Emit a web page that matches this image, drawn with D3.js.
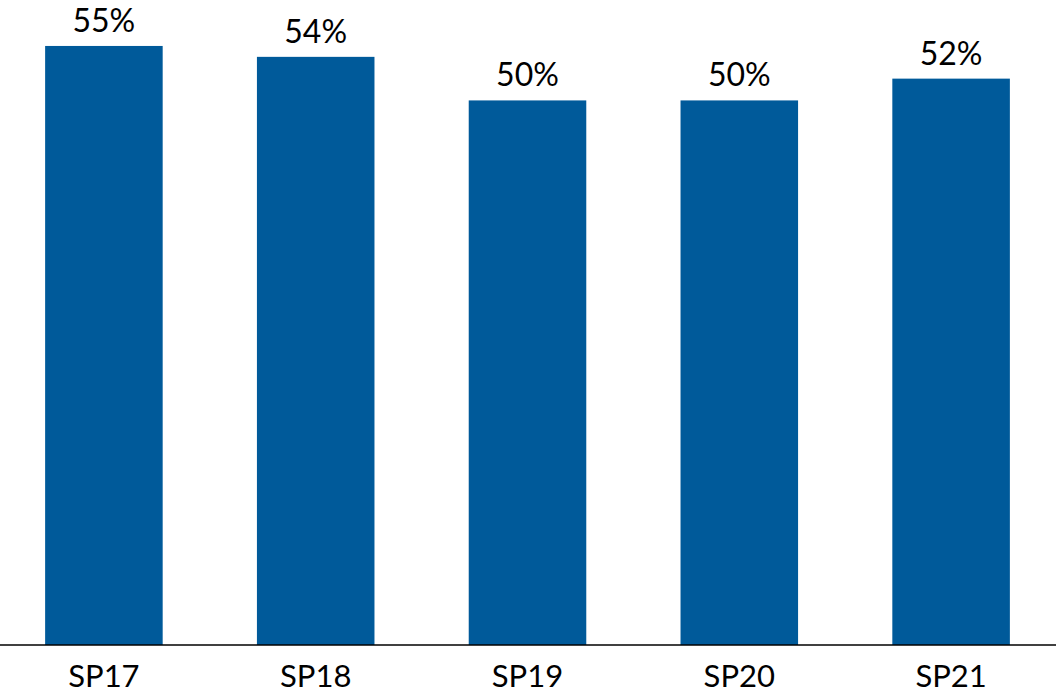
<!DOCTYPE html>
<html lang="en">
  <head>
    <meta charset="UTF-8" />
    <title>SP share</title>
    <script src="https://cdn.jsdelivr.net/npm/d3@7"></script>
    <style>
      body {
        margin: 0;
        padding: 0;
        background: #fff;
      }
      svg text {
        font-family: Lato, "Open Sans", sans-serif;
        fill: #000;
      }
    </style>
  </head>
  <body>
    <svg id="chart" width="1060" height="696"></svg>
    <script>
      const categories = ["SP17", "SP18", "SP19", "SP20", "SP21"];
      const values = [55, 54, 50, 50, 52];

      const baseline = 645;

      const svg = d3.select("#chart");

      const x = d3
        .scaleBand()
        .domain(categories)
        .range([-2, 1057])
        .paddingInner(0.445)
        .paddingOuter(0.2225);

      // 0..60% mapped so that the baseline sits at y=645
      const y = d3.scaleLinear().domain([0, 60]).range([baseline, -8.5]);

      svg
        .selectAll("rect.bar")
        .data(values)
        .enter()
        .append("rect")
        .attr("class", "bar")
        .attr("x", (d, i) => x(categories[i]))
        .attr("y", (d) => y(d))
        .attr("width", x.bandwidth())
        .attr("height", (d) => y(0) - y(d))
        .attr("fill", "#005A9A");

      // value labels
      svg
        .selectAll("text.value")
        .data(values)
        .enter()
        .append("text")
        .attr("class", "value")
        .attr("x", (d, i) => x(categories[i]) + x.bandwidth() / 2)
        .attr("y", (d) => y(d) - 14)
        .attr("text-anchor", "middle")
        .style("font-size", "32px")
        .text((d) => d + "%");

      // category axis
      const axis = svg
        .append("g")
        .attr("transform", "translate(0," + baseline + ")")
        .call(d3.axisBottom(x).tickSize(0).tickPadding(20));

      axis.select(".domain").remove();
      axis
        .append("line")
        .attr("x1", 0)
        .attr("x2", 1056)
        .attr("y1", 0)
        .attr("y2", 0)
        .attr("stroke", "#000")
        .attr("stroke-width", 1.5);

      axis
        .selectAll(".tick text")
        .style("font-size", "31px")
        .style("font-family", "Lato, 'Open Sans', sans-serif")
        .attr("fill", "#000");
    </script>
  </body>
</html>
